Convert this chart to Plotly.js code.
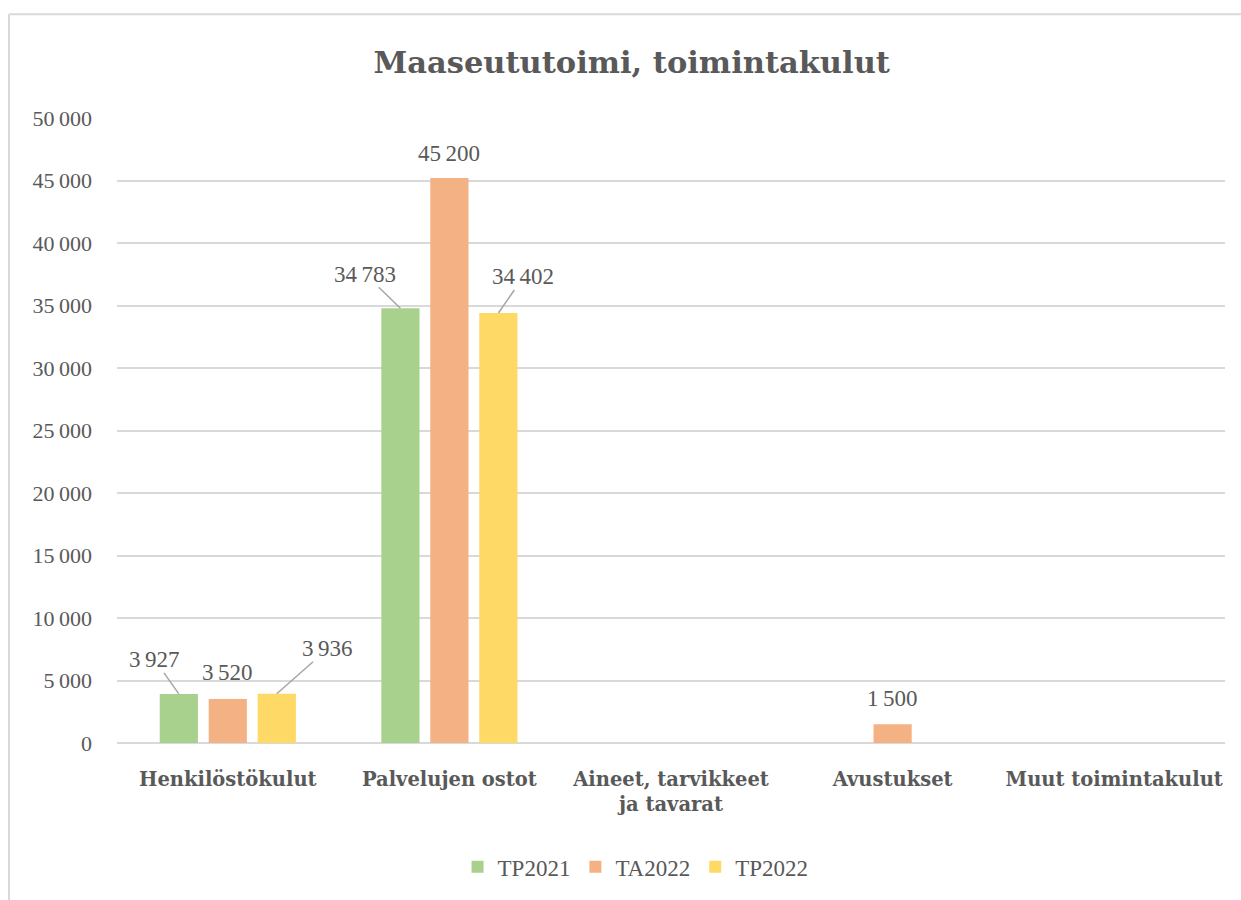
<!DOCTYPE html>
<html>
<head>
<meta charset="utf-8">
<script src="https://cdn.plot.ly/plotly-3.0.1.min.js"></script>
<style>html,body{margin:0;padding:0;background:#fff;}#chart{width:1241px;height:900px;}</style>
</head>
<body>
<div id="chart"></div>
<script>
const categories = ["Henkilöstökulut", "Palvelujen ostot", "Aineet, tarvikkeet<br>ja tavarat", "Avustukset", "Muut toimintakulut"];
const seriesNames = ["TP2021", "TA2022", "TP2022"];
const tp2021 = [3927, 34783, null, null, null];
const ta2022 = [3520, 45200, null, 1500, null];
const tp2022 = [3936, 34402, null, null, null];
const yTicks = [0, 5000, 10000, 15000, 20000, 25000, 30000, 35000, 40000, 45000, 50000];

const colors = ["#A9D18E", "#F4B183", "#FFD966"];
const FONT = "Liberation Serif";
const BFONT = "DejaVu Serif";
const TXT = "#595959";
const seriesValues = [tp2021, ta2022, tp2022];

function fmt(v){ return String(v).replace(/\B(?=(\d{3})+(?!\d))/g, "\u202F"); }

const traces = seriesValues.map((vals, i) => ({
  type: "bar", name: seriesNames[i], x: categories, y: vals,
  marker: {color: colors[i]}, hoverinfo: "skip"
}));

// label offsets (pixels) relative to bar top: [seriesIdx, catIdx, dx, dy, leader]
const labelPlacement = [
  [0,0,-24,-34,true],[1,0,0,-27,false],[2,0,51,-45,true],
  [0,1,-35,-34,true],[1,1,0,-25,false],[2,1,25,-36,true],
  [1,3,0,-26,false]
];
const slot = 49;
const annotations = labelPlacement.map(([s,c,dx,dy,lead]) => {
  const v = seriesValues[s][c];
  const a = {x: categories[c], y: v, xref: "x", yref: "y", text: fmt(v),
    xshift: (s-1)*slot, font: {family: FONT, size: 23, color: TXT}};
  if (lead) {
    Object.assign(a, {showarrow: true, ax: dx, ay: dy, arrowhead: 0, arrowwidth: 1.5,
      arrowcolor: "#a6a6a6", standoff: 0, borderpad: 0});
  } else {
    Object.assign(a, {showarrow: false, yshift: -dy});
  }
  return a;
});

const layout = {
  width: 1241, height: 900,
  margin: {l: 117, r: 16, t: 118, b: 155},
  paper_bgcolor: "#ffffff", plot_bgcolor: "#ffffff",
  separators: ", ",
  font: {family: FONT, color: TXT, size: 22},
  title: {text: "<b>Maaseututoimi, toimintakulut</b>", x: 0.509, xref: "container", xanchor: "center",
    y: 0.931, yanchor: "middle", font: {family: BFONT, size: 30.5, color: TXT}},
  barmode: "group", bargap: 0.337, bargroupgap: 0.22,
  showlegend: true,
  legend: {orientation: "h", x: 0.468, xanchor: "center", y: -0.198, yanchor: "middle",
    font: {family: FONT, size: 23, color: TXT}, traceorder: "normal", itemwidth: 30},
  xaxis: {type: "category", showgrid: false, zeroline: false, showline: false, ticks: "",
    tickfont: {family: BFONT, size: 19.5, color: TXT}, ticklabelstandoff: 22, fixedrange: true,
    tickprefix: "<b>", ticksuffix: "</b>"},
  yaxis: {range: [0, 50000], tickvals: yTicks, ticktext: yTicks.map(fmt), showgrid: true, gridcolor: "#d9d9d9", gridwidth: 2,
    zeroline: true, zerolinecolor: "#d9d9d9", zerolinewidth: 2, showline: false, ticks: "",
    tickfont: {family: FONT, size: 22, color: TXT}, ticklabelstandoff: 24, fixedrange: true},
  annotations: annotations,
  shapes: [
    {type: "line", xref: "paper", yref: "paper", x0: (9-117)/1108, x1: (1245-117)/1108,
      y0: (745-14)/627, y1: (745-14)/627, line: {color: "#d9d9d9", width: 2}},
    {type: "line", xref: "paper", yref: "paper", x0: (9-117)/1108, x1: (9-117)/1108,
      y0: (745-14)/627, y1: (745-905)/627, line: {color: "#d9d9d9", width: 2}}
  ]
};

Plotly.newPlot("chart", traces, layout, {displayModeBar: false, staticPlot: true});
</script>
</body>
</html>
